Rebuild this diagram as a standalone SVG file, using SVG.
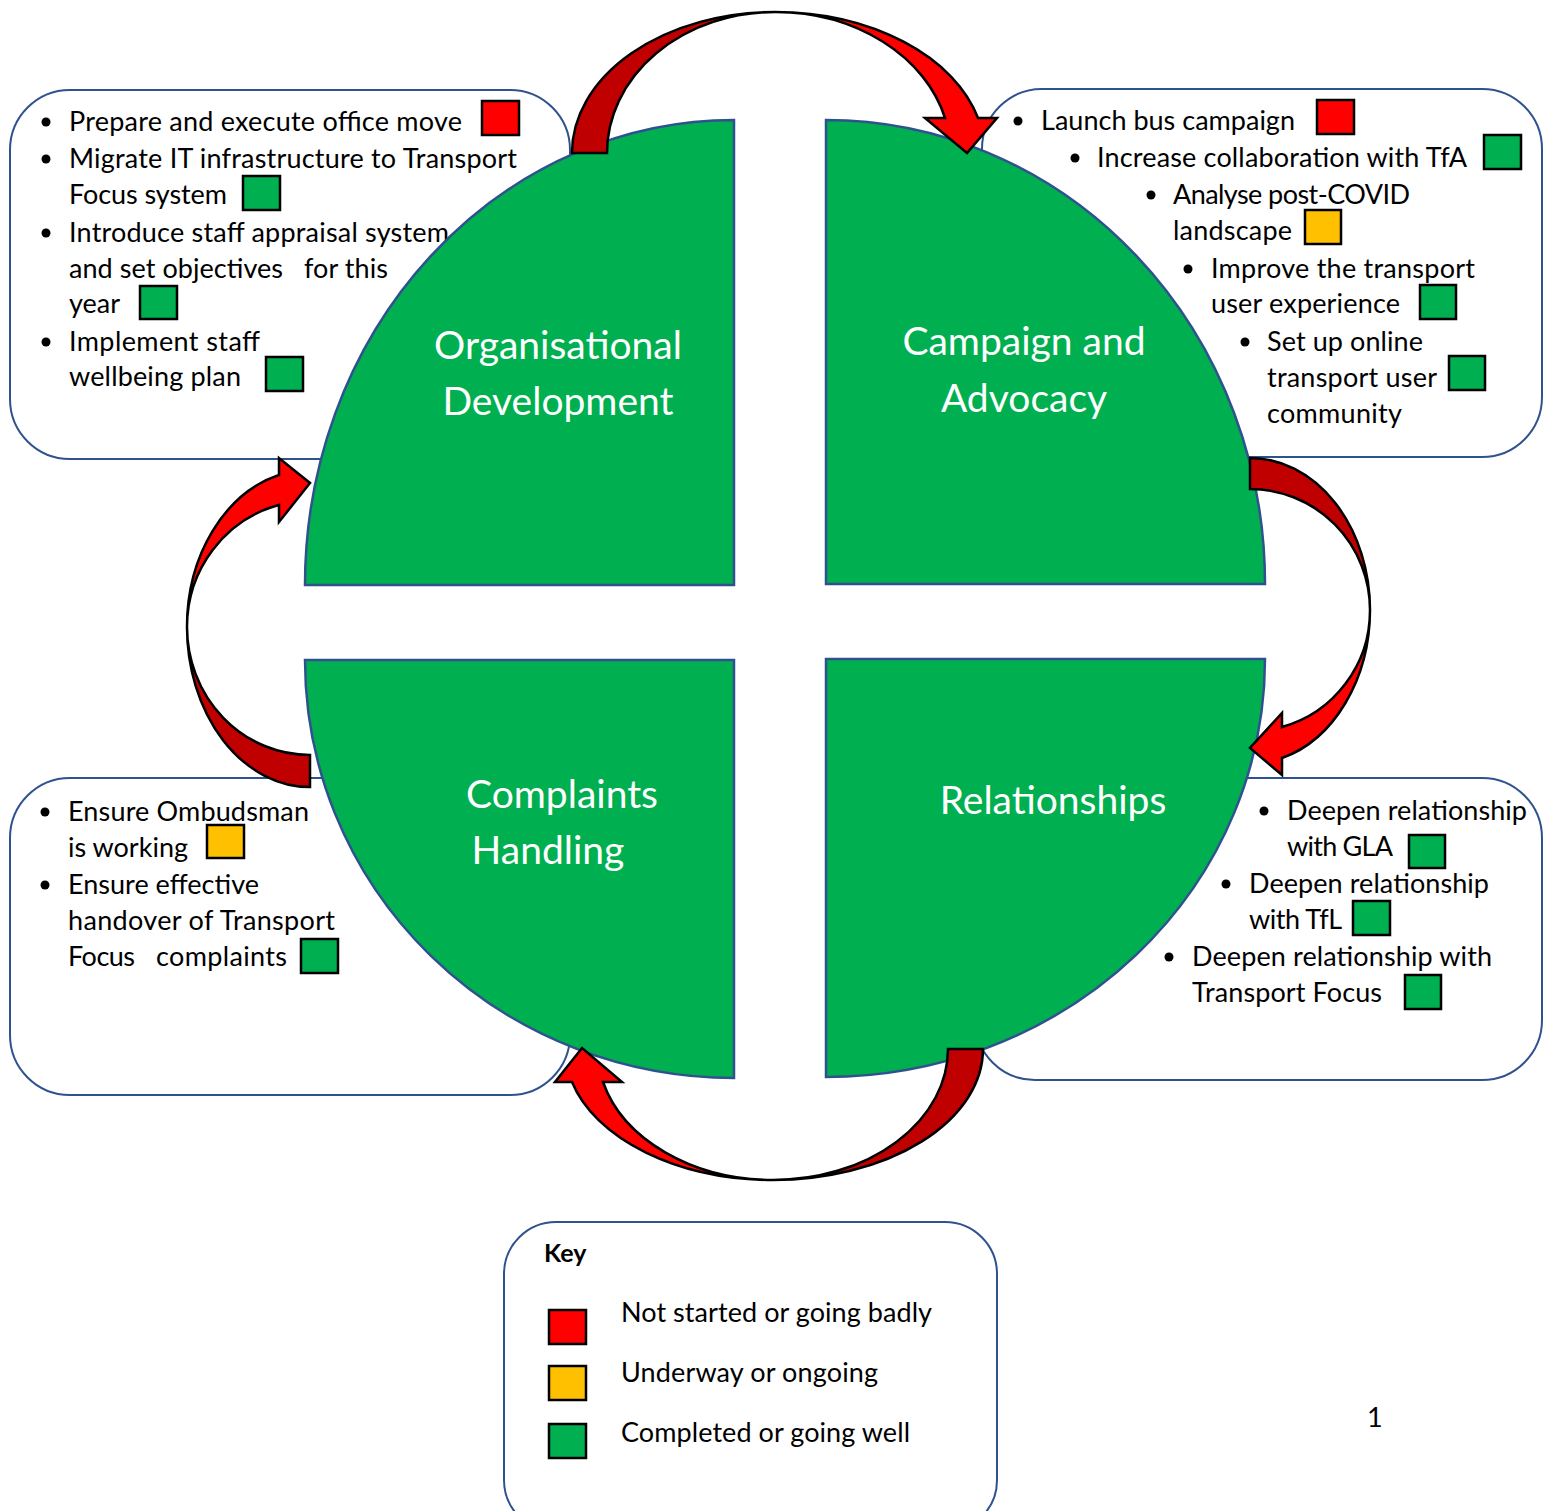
<svg xmlns="http://www.w3.org/2000/svg" width="1544" height="1511" viewBox="0 0 1544 1511">
<style>
.box{fill:#fff;stroke:#2F528F;stroke-width:2}
.q{fill:#00B050;stroke:#2F528F;stroke-width:2.5}
.t{font-family:Lato,"Open Sans",sans-serif;font-size:27px;fill:#000}
.h{font-family:Lato,"Open Sans",sans-serif;font-size:39px;fill:#fff;text-anchor:middle}
.b{fill:#000}
.sq{stroke:#000;stroke-width:2.5}
.r{fill:#FF0000}.a{fill:#FFC000}.g{fill:#00B050}
.dk{fill:#C00000;stroke:#000;stroke-width:2.5;stroke-linejoin:miter}
.br{fill:#FF0000;stroke:#000;stroke-width:2.5;stroke-linejoin:miter}
</style>
<rect width="1544" height="1511" fill="#fff"/>

<g id="box-org">
<rect class="box" x="10" y="90" width="560" height="369" rx="60"/>
<circle class="b" cx="46" cy="122" r="4.5"/>
<text class="t" x="69" y="131" textLength="393">Prepare and execute office move</text>
<rect class="sq r" x="482" y="101" width="37" height="34"/>
<circle class="b" cx="46" cy="159" r="4.5"/>
<text class="t" x="69" y="168" textLength="448">Migrate IT infrastructure to Transport</text>
<text class="t" x="69" y="204" textLength="158">Focus system</text>
<rect class="sq g" x="243" y="176" width="37" height="34"/>
<circle class="b" cx="46" cy="233" r="4.5"/>
<text class="t" x="69" y="242" textLength="380">Introduce staff appraisal system</text>
<text class="t" x="69" y="278" textLength="214">and set objectives</text>
<text class="t" x="304" y="278" textLength="84">for this</text>
<text class="t" x="69" y="313" textLength="51">year</text>
<rect class="sq g" x="140" y="286" width="37" height="33"/>
<circle class="b" cx="46" cy="342" r="4.5"/>
<text class="t" x="69" y="351" textLength="191">Implement staff</text>
<text class="t" x="69" y="386" textLength="172">wellbeing plan</text>
<rect class="sq g" x="266" y="357" width="37" height="34"/>
</g>

<g id="box-campaign">
<rect class="box" x="982" y="89" width="560" height="368" rx="60"/>
<circle class="b" cx="1018" cy="121" r="4.5"/>
<text class="t" x="1041" y="130" textLength="254">Launch bus campaign</text>
<rect class="sq r" x="1317" y="100" width="37" height="34"/>
<circle class="b" cx="1075" cy="158" r="4.5"/>
<text class="t" x="1097" y="167" textLength="370">Increase collaboration with TfA</text>
<rect class="sq g" x="1484" y="135" width="37" height="34"/>
<circle class="b" cx="1151" cy="195" r="4.5"/>
<text class="t" x="1173" y="204" textLength="237">Analyse post-COVID</text>
<text class="t" x="1173" y="240" textLength="119">landscape</text>
<rect class="sq a" x="1305" y="210" width="36" height="34"/>
<circle class="b" cx="1188" cy="269" r="4.5"/>
<text class="t" x="1211" y="278" textLength="264">Improve the transport</text>
<text class="t" x="1211" y="313" textLength="189">user experience</text>
<rect class="sq g" x="1420" y="285" width="36" height="34"/>
<circle class="b" cx="1245" cy="342" r="4.5"/>
<text class="t" x="1267" y="351" textLength="156">Set up online</text>
<text class="t" x="1267" y="387" textLength="170">transport user</text>
<rect class="sq g" x="1449" y="356" width="36" height="34"/>
<text class="t" x="1267" y="423" textLength="135">community</text>
</g>

<g id="box-complaints">
<rect class="box" x="10" y="778" width="560" height="317" rx="60"/>
<circle class="b" cx="45" cy="812" r="4.5"/>
<text class="t" x="68" y="821" textLength="241">Ensure Ombudsman</text>
<text class="t" x="68" y="857" textLength="120">is working</text>
<rect class="sq a" x="207" y="825" width="37" height="33"/>
<circle class="b" cx="45" cy="885" r="4.5"/>
<text class="t" x="68" y="894" textLength="191">Ensure effective</text>
<text class="t" x="68" y="930" textLength="267">handover of Transport</text>
<text class="t" x="68" y="966" textLength="67">Focus</text>
<text class="t" x="156" y="966" textLength="131">complaints</text>
<rect class="sq g" x="301" y="939" width="37" height="34"/>
</g>

<g id="box-relationships">
<rect class="box" x="975" y="778" width="567" height="302" rx="60"/>
<circle class="b" cx="1264" cy="811" r="4.5"/>
<text class="t" x="1287" y="820" textLength="240">Deepen relationship</text>
<text class="t" x="1287" y="856" textLength="106">with GLA</text>
<rect class="sq g" x="1409" y="835" width="36" height="33"/>
<circle class="b" cx="1226" cy="884" r="4.5"/>
<text class="t" x="1249" y="893" textLength="240">Deepen relationship</text>
<text class="t" x="1249" y="929" textLength="93">with TfL</text>
<rect class="sq g" x="1353" y="901" width="37" height="34"/>
<circle class="b" cx="1169" cy="957" r="4.5"/>
<text class="t" x="1192" y="966" textLength="300">Deepen relationship with</text>
<text class="t" x="1192" y="1002" textLength="190">Transport Focus</text>
<rect class="sq g" x="1405" y="975" width="36" height="34"/>
</g>

<g id="q-org">
<path class="q" d="M734,585 L305,585 A429,465 0 0 1 734,120 Z"/>
<text class="h" x="558" y="359">Organisational</text>
<text class="h" x="558" y="415">Development</text>
</g>
<g id="q-campaign">
<path class="q" d="M826,584 L826,120 A439,464 0 0 1 1265,584 Z"/>
<text class="h" x="1024" y="355">Campaign and</text>
<text class="h" x="1024" y="412">Advocacy</text>
</g>
<g id="q-complaints">
<path class="q" d="M734,660 L734,1078 A429,418 0 0 1 305,660 Z"/>
<text class="h" x="562" y="808">Complaints</text>
<text class="h" x="548" y="864">Handling</text>
</g>
<g id="q-relationships">
<path class="q" d="M826,659 L1265,659 A439,418 0 0 1 826,1077 Z"/>
<text class="h" x="1053" y="814">Relationships</text>
</g>

<g id="connectors">
<path class="dk" d="M572,153 A203,141 0 0 1 775,12 A168,141 0 0 0 607,153 Z"/>
<path class="br" d="M775,12 A210,141 0 0 1 978,118 L997,118 L967,153 L925,118 L945,118 A175,141 0 0 0 775,12 Z"/>
<path class="dk" d="M1250,458 A120,152 0 0 1 1370,610 A120,121 0 0 0 1250,489 Z"/>
<path class="br" d="M1370,610 A120,154 0 0 1 1282,758 L1282,775 L1250,748 L1282,713 L1282,727 A120,121 0 0 0 1370,610 Z"/>
<path class="dk" d="M983,1049 A210,131 0 0 1 773,1180 A175,131 0 0 0 948,1049 Z"/>
<path class="br" d="M773,1180 A208,131 0 0 1 572,1082 L555,1082 L582,1048 L622,1082 L603,1082 A176,131 0 0 0 773,1180 Z"/>
<path class="dk" d="M310,787 A123,160 0 0 1 187,627 A123,128 0 0 0 310,755 Z"/>
<path class="br" d="M187,627 A123,157 0 0 1 279,475 L279,458 L310,483 L279,522 L279,505 A123,126 0 0 0 187,627 Z"/>
</g>

<g id="key">
<rect class="box" x="504" y="1222" width="493" height="310" rx="52"/>
<text class="t" x="544" y="1262" style="font-weight:bold;font-size:25px">Key</text>
<rect class="sq r" x="549" y="1310" width="37" height="34"/>
<text class="t" x="621" y="1322" textLength="311">Not started or going badly</text>
<rect class="sq a" x="549" y="1366" width="37" height="34"/>
<text class="t" x="621" y="1382" textLength="257">Underway or ongoing</text>
<rect class="sq g" x="549" y="1424" width="37" height="34"/>
<text class="t" x="621" y="1442" textLength="289">Completed or going well</text>
</g>
<text class="t" x="1367" y="1427">1</text>
</svg>
